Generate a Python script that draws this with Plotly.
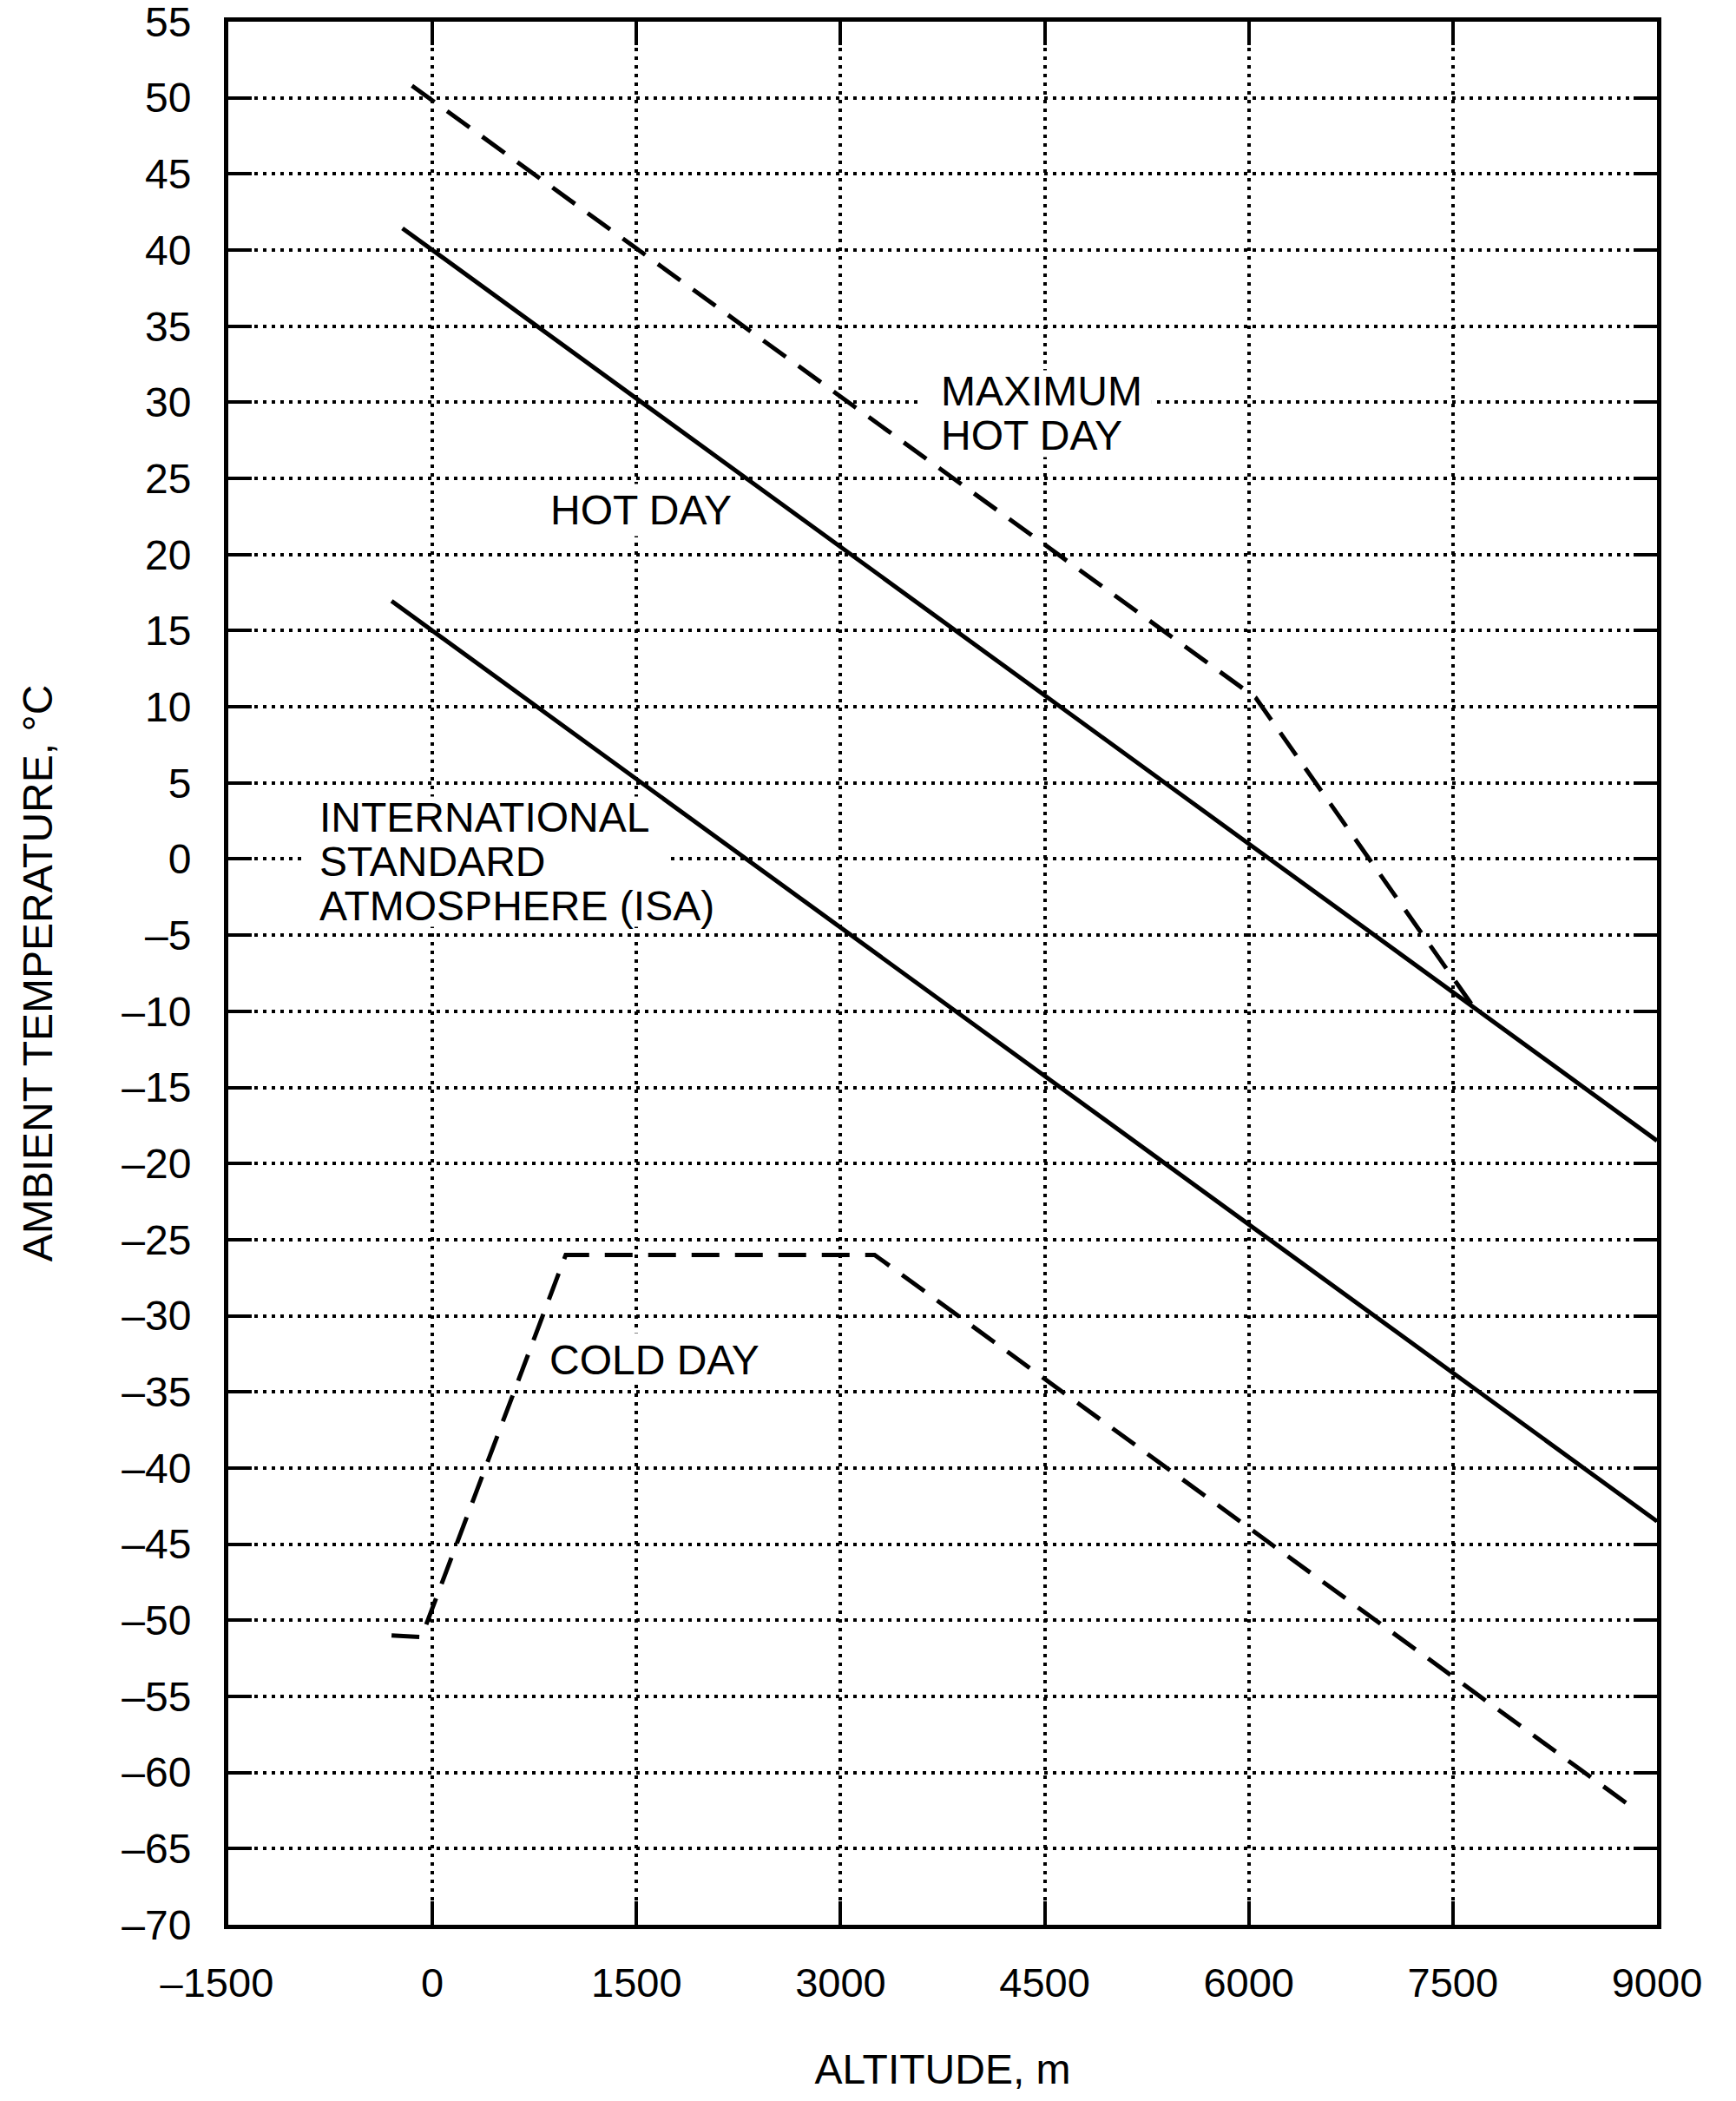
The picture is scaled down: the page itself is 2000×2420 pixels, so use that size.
import plotly.graph_objects as go

# ---- data ----
isa_alt = [-300, 9000]
isa_temp = [16.95, -43.5]

hot_alt = [-220, 9000]
hot_temp = [41.43, -18.5]

maxhot_alt = [-150, 6050, 7650]
maxhot_temp = [50.8, 10.6, -9.7]

cold_alt = [-300, -80, 980, 3250, 8850]
cold_temp = [-51.0, -51.1, -26.0, -26.0, -62.5]

x_ticks = [-1500, 0, 1500, 3000, 4500, 6000, 7500, 9000]
x_ticktext = ["\u20131500\u2007", "0", "1500", "3000", "4500", "6000", "7500", "9000"]
y_ticks = list(range(-70, 56, 5))
y_ticktext = [("\u2013" + str(-v)) if v < 0 else str(v) for v in y_ticks]

# label text lines: (text, x anchor, y centre)
label_lines = [
    ("MAXIMUM", 3724, 30.74),
    ("HOT DAY", 3724, 27.83),
    ("HOT DAY", 851, 22.92),
    ("INTERNATIONAL", -844, 2.72),
    ("STANDARD", -844, -0.2),
    ("ATMOSPHERE (ISA)", -844, -3.1),
    ("COLD DAY", 845, -32.9),
]
# white masks behind labels (anchor x, anchor y, pixel extents left/right/down/up)
label_masks = [
    (3724, 29.26, -22, 245, -50, 50),
    (851, 22.92, -12, 225, -30, 30),
    (-844, 0.0, -15, 405, -78, 72),
    (845, -32.9, -8, 255, -24, 31),
]

FONT = "Liberation Sans, Arial, sans-serif"
FS = 48
TFS = 47

fig = go.Figure()
solid = dict(color="black", width=5)
dashed = dict(color="black", width=5, dash="32px,18px")
fig.add_trace(go.Scatter(x=isa_alt, y=isa_temp, mode="lines", line=solid, showlegend=False))
fig.add_trace(go.Scatter(x=hot_alt, y=hot_temp, mode="lines", line=solid, showlegend=False))
fig.add_trace(go.Scatter(x=maxhot_alt, y=maxhot_temp, mode="lines", line=dashed, showlegend=False))
fig.add_trace(go.Scatter(x=cold_alt, y=cold_temp, mode="lines", line=dashed, showlegend=False))

for ax, ay, l, r, d, u in label_masks:
    fig.add_shape(type="rect", xref="x", yref="y", xsizemode="pixel", ysizemode="pixel",
                  xanchor=ax, yanchor=ay, x0=l, x1=r, y0=d, y1=u,
                  fillcolor="white", line=dict(width=0), layer="between")

for txt, x, y in label_lines:
    fig.add_annotation(x=x, y=y, xref="x", yref="y", text=txt, showarrow=False,
                       xanchor="left", yanchor="middle", align="left",
                       font=dict(family=FONT, size=FS, color="black"))

axis_common = dict(
    showline=True, linecolor="black", linewidth=5, mirror="allticks",
    ticks="inside", ticklen=27, tickwidth=4, tickcolor="black",
    showgrid=True, gridcolor="black", gridwidth=4, griddash="4px,6px",
    zeroline=False, automargin=False, ticklabeloverflow="allow",
)

fig.update_xaxes(range=[-1500, 9000], tickvals=x_ticks, ticktext=x_ticktext,
                 ticklabelstandoff=22,
                 tickfont=dict(family=FONT, size=TFS, color="black"),
                 title=dict(text="ALTITUDE, m", font=dict(family=FONT, size=FS, color="black"),
                            standoff=58),
                 **axis_common)
fig.update_yaxes(range=[-70, 55], tickvals=y_ticks, ticktext=y_ticktext,
                 ticklabelstandoff=28,
                 tickfont=dict(family=FONT, size=FS, color="black"),
                 title=dict(text="AMBIENT TEMPERATURE, \u00b0C", font=dict(family=FONT, size=FS, color="black"),
                            standoff=66),
                 **axis_common)

fig.update_layout(
    width=2000, height=2420,
    margin=dict(l=263, r=91, t=25, b=203),
    paper_bgcolor="white", plot_bgcolor="white",
    font=dict(family=FONT, size=FS, color="black"),
)

fig.write_html("out.html")
